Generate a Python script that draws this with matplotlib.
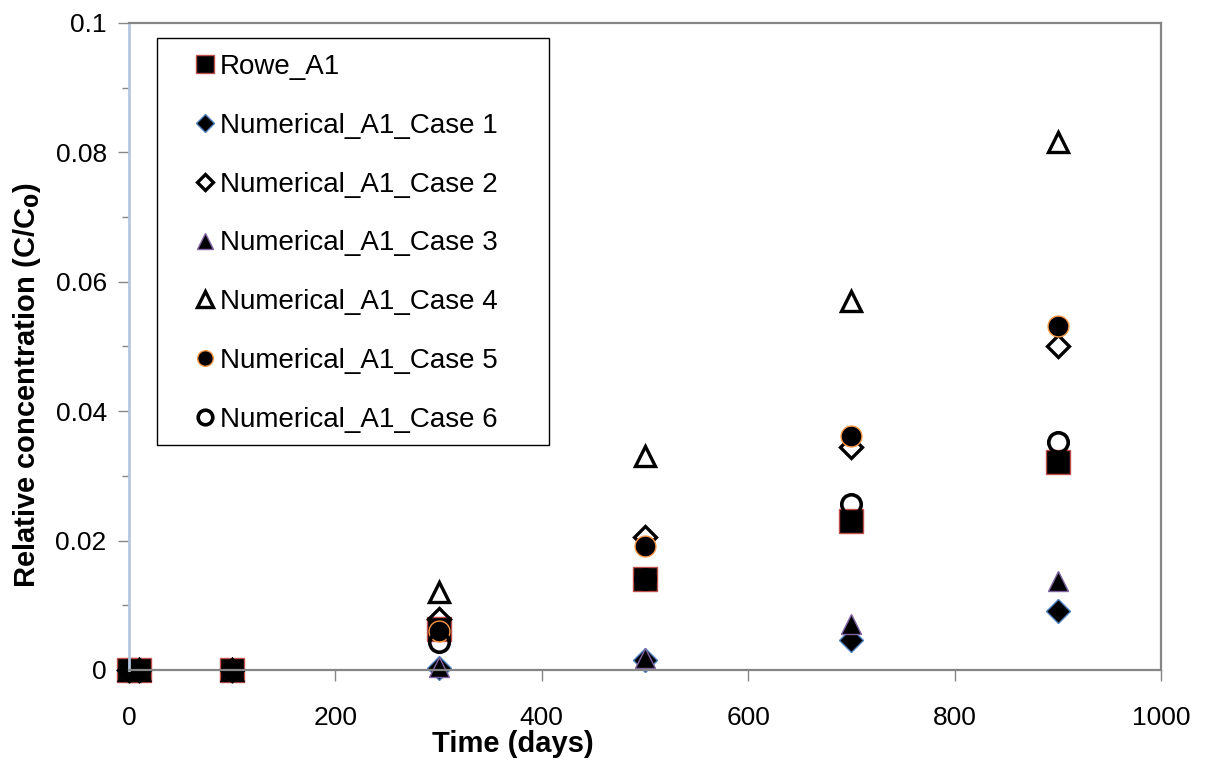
import numpy as np
import matplotlib
matplotlib.use("Agg")
import matplotlib.pyplot as plt
from matplotlib.patches import Rectangle
from matplotlib.ticker import MultipleLocator, FormatStrFormatter

plt.rcParams['font.family'] = ['Liberation Sans', 'DejaVu Sans']

# temps (jours)
t = [0, 10, 100, 300, 500, 700, 900]

rowe_a1 = [0, 0, 0, 0.0063, 0.014, 0.023, 0.0321]
case1 = [0, 0, 0, 0.0003, 0.0015, 0.0046, 0.0091]
case2 = [0, 0, 0, 0.0079, 0.0205, 0.0344, 0.050]
case3 = [0, 0, 0, 0.0004, 0.0019, 0.0071, 0.0137]
case4 = [0, 0, 0, 0.012, 0.033, 0.057, 0.0816]
case5 = [0, 0, 0, 0.006, 0.0191, 0.0361, 0.0531]
case6 = [0, 0, 0, 0.0043, 0.014, 0.0256, 0.0353]

labels = ["Rowe_A1", "Numerical_A1_Case 1", "Numerical_A1_Case 2",
          "Numerical_A1_Case 3", "Numerical_A1_Case 4", "Numerical_A1_Case 5",
          "Numerical_A1_Case 6"]

fig = plt.figure(figsize=(12.05, 7.61), dpi=100)
ax = fig.add_axes([0.107, 0.1196, 0.8565, 0.8502])

kw = dict(ls='none', clip_on=False)
ax.plot(t, rowe_a1, marker='s', ms=17, mfc='black', mec='#c0504d', mew=1, label=labels[0], **kw)
ax.plot(t, case1, marker='D', ms=12, mfc='black', mec='#4f81bd', mew=1, label=labels[1], **kw)
ax.plot(t, case2, marker='D', ms=11, mfc='none', mec='black', mew=2.4, label=labels[2], **kw)
ax.plot(t, case3, marker='^', ms=15, mfc='black', mec='#8064a2', mew=1, label=labels[3], **kw)
ax.plot(t, case4, marker='^', ms=15, mfc='white', mec='black', mew=2.4, label=labels[4], **kw)
ax.plot(t, case5, marker='o', ms=15, mfc='black', mec='#f79646', mew=1, label=labels[5], **kw)
ax.plot(t, case6, marker='o', ms=14, mfc='none', mec='black', mew=2.6, label=labels[6], **kw)

ax.set_xlim(0, 1000)
ax.set_ylim(0, 0.1)
ax.xaxis.set_major_locator(MultipleLocator(200))
ax.yaxis.set_major_locator(MultipleLocator(0.02))
ax.yaxis.set_minor_locator(MultipleLocator(0.01))
ax.yaxis.set_major_formatter(FormatStrFormatter('%g'))
ax.tick_params(axis='both', which='major', direction='out', length=8, width=1,
               color='#868686', labelsize=19)
ax.tick_params(axis='x', pad=18)
ax.tick_params(axis='y', pad=8)
ax.tick_params(axis='y', which='minor', direction='out', length=5, width=1, color='#868686')

for s in ['top', 'right', 'bottom']:
    ax.spines[s].set_color('#868686')
    ax.spines[s].set_linewidth(1.6)
ax.spines['left'].set_color('#b4c6e0')
ax.spines['left'].set_linewidth(2)

ax.set_xlabel('Time (days)', fontsize=21, fontweight='bold')
ax.xaxis.set_label_coords(0.372, -0.092)
ax.set_ylabel('Relative concentration (C/C$_\\mathbf{0}$)', fontsize=21, fontweight='bold')
ax.yaxis.set_label_coords(-0.0833, 0.44)

# cadre de la légende
fig.patches.append(Rectangle((157 / 1205, 1 - 445 / 761), 392 / 1205, 407 / 761,
                             transform=fig.transFigure, fill=False, ec='black', lw=1.0))

leg = ax.legend(loc='upper left', bbox_to_anchor=(0.1632, 0.929), bbox_transform=fig.transFigure,
                fontsize=20, markerscale=0.75, handlelength=0.6, handletextpad=0.24,
                labelspacing=1.18, borderpad=0, borderaxespad=0, frameon=False, numpoints=1)

fig.savefig('out.png', dpi=100)
